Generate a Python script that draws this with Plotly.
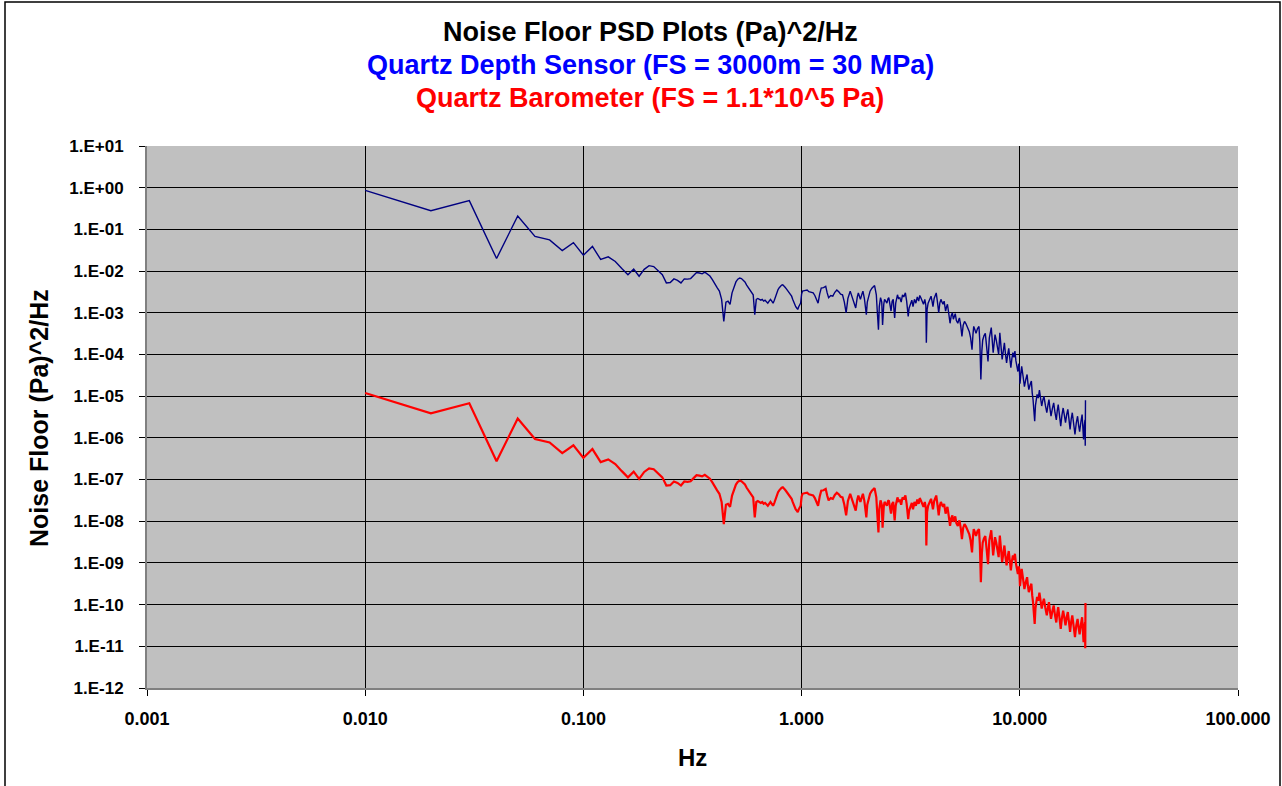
import plotly.graph_objects as go

# ---------------- data ----------------
freq_hz = [
    0.01, 0.02, 0.03, 0.04, 0.05, 0.06, 0.07, 0.08, 0.09, 0.10,
    0.11, 0.12, 0.13, 0.14, 0.15, 0.16, 0.17, 0.18, 0.19, 0.20,
    0.21, 0.22, 0.23, 0.24, 0.25, 0.26, 0.27, 0.28, 0.29, 0.30,
    0.31, 0.32, 0.33, 0.34, 0.35, 0.36, 0.37, 0.38, 0.39, 0.40,
    0.41, 0.42, 0.43, 0.44, 0.45, 0.46, 0.47, 0.48, 0.49, 0.50,
    0.51, 0.52, 0.53, 0.54, 0.55, 0.56, 0.57, 0.58, 0.59, 0.60,
    0.61, 0.62, 0.63, 0.64, 0.65, 0.66, 0.67, 0.68, 0.69, 0.70,
    0.71, 0.72, 0.73, 0.74, 0.75, 0.76, 0.77, 0.78, 0.79, 0.80,
    0.81, 0.82, 0.83, 0.84, 0.85, 0.86, 0.87, 0.88, 0.89, 0.90,
    0.91, 0.92, 0.93, 0.94, 0.95, 0.96, 0.97, 0.98, 0.99, 1.00,
    1.01, 1.03, 1.06, 1.08, 1.10, 1.13, 1.15, 1.17, 1.19, 1.21,
    1.23, 1.26, 1.29, 1.31, 1.33, 1.36, 1.39, 1.42, 1.45, 1.48,
    1.51, 1.54, 1.57, 1.60, 1.63, 1.67, 1.70, 1.72, 1.75, 1.77,
    1.80, 1.82, 1.84, 1.86, 1.89, 1.91, 1.94, 1.96, 1.98, 2.00,
    2.03, 2.06, 2.10, 2.13, 2.16, 2.18, 2.20, 2.22, 2.25, 2.27,
    2.30, 2.33, 2.35, 2.38, 2.40, 2.43, 2.46, 2.49, 2.51, 2.54,
    2.57, 2.60, 2.63, 2.65, 2.67, 2.70, 2.75, 2.78, 2.82, 2.86,
    2.90, 2.94, 2.99, 3.03, 3.08, 3.11, 3.15, 3.20, 3.24, 3.29,
    3.34, 3.39, 3.44, 3.48, 3.52, 3.57, 3.62, 3.67, 3.71, 3.73,
    3.76, 3.80, 3.86, 3.92, 3.96, 4.00, 4.05, 4.10, 4.14, 4.20,
    4.25, 4.30, 4.35, 4.40, 4.45, 4.50, 4.57, 4.62, 4.66, 4.72,
    4.79, 4.85, 4.91, 4.96, 5.00, 5.06, 5.12, 5.20, 5.25, 5.29,
    5.36, 5.43, 5.50, 5.58, 5.66, 5.74, 5.80, 5.87, 5.95, 6.04,
    6.10, 6.15, 6.22, 6.30, 6.40, 6.50, 6.56, 6.63, 6.70, 6.76,
    6.85, 6.95, 7.05, 7.15, 7.25, 7.40, 7.55, 7.70, 7.80, 7.90,
    8.00, 8.10, 8.20, 8.30, 8.40, 8.50, 8.60, 8.70, 8.80, 8.90,
    9.00, 9.10, 9.20, 9.30, 9.40, 9.50, 9.60, 9.70, 9.80, 9.90,
    9.95, 10.02, 10.2, 10.35, 10.5, 10.65, 10.8, 10.9, 11.0, 11.15,
    11.3, 11.4, 11.5, 11.7, 11.8, 12.0, 12.15, 12.3, 12.45, 12.6,
    12.75, 12.9, 13.1, 13.3, 13.45, 13.6, 13.75, 13.9, 14.1, 14.3,
    14.5, 14.7, 14.85, 15.0, 15.2, 15.4, 15.6, 15.8, 16.0, 16.2,
    16.4, 16.6, 16.8, 17.0, 17.2, 17.4, 17.65, 17.9, 18.15, 18.4,
    18.6, 18.8, 19.05, 19.3, 19.45, 19.6, 19.75, 19.9, 19.95, 20.0,
]

# Quartz depth sensor noise floor PSD, (Pa)^2/Hz
depth_psd = [
    0.86, 0.28, 0.49, 0.020, 0.21, 0.068, 0.056, 0.031, 0.048, 0.024,
    0.039, 0.019, 0.022, 0.017, 0.0115, 0.0082, 0.0112, 0.0075, 0.011, 0.0135,
    0.0128, 0.0104, 0.0082, 0.0052, 0.0053, 0.0065, 0.0060, 0.0052, 0.0065, 0.0064,
    0.0066, 0.0078, 0.0092, 0.0090, 0.0086, 0.0094, 0.0085, 0.0076, 0.0062, 0.0048,
    0.0040, 0.0033, 0.0021, 0.00062, 0.0018, 0.0019, 0.0016, 0.0030, 0.0043, 0.0055,
    0.0064, 0.0068, 0.0066, 0.0060, 0.0055, 0.0046, 0.0040, 0.0035, 0.0030, 0.0027,
    0.00090, 0.0021, 0.0022, 0.0021, 0.0020, 0.0021, 0.0019, 0.0020, 0.0018, 0.0017,
    0.0019, 0.0021, 0.0019, 0.0017, 0.0020, 0.0025, 0.0031, 0.0036, 0.0040, 0.0044,
    0.0046, 0.0047, 0.0045, 0.0041, 0.0038, 0.0035, 0.0033, 0.0030, 0.0028, 0.0025,
    0.0021, 0.0018, 0.0016, 0.0014, 0.0013, 0.0012, 0.0014, 0.0016, 0.0017, 0.0028,
    0.0033, 0.0034, 0.0035, 0.0032, 0.0031, 0.0030, 0.0026, 0.0021, 0.0017, 0.0028,
    0.0039, 0.0040, 0.0043, 0.0030, 0.0023, 0.0026, 0.0025, 0.0031, 0.0035, 0.0032,
    0.0028, 0.0027, 0.0018, 0.0010, 0.0022, 0.0033, 0.0024, 0.0019, 0.0016, 0.0013,
    0.0024, 0.0030, 0.0025, 0.0021, 0.0028, 0.0033, 0.0022, 0.0013, 0.00090, 0.0018,
    0.0027, 0.0033, 0.0039, 0.0042, 0.0045, 0.0035, 0.0027, 0.0012, 0.00039, 0.0014,
    0.0023, 0.0018, 0.00051, 0.0016, 0.0021, 0.0019, 0.0017, 0.0022, 0.0023, 0.0016,
    0.0011, 0.0019, 0.0021, 0.0012, 0.00075, 0.0017, 0.0027, 0.0022, 0.0023, 0.0018,
    0.0027, 0.0024, 0.0030, 0.0019, 0.00082, 0.0013, 0.0016, 0.0020, 0.0014, 0.0021,
    0.0017, 0.0024, 0.0019, 0.0026, 0.0023, 0.0020, 0.0016, 0.0021, 0.0015, 0.00019,
    0.0012, 0.0017, 0.0022, 0.0025, 0.0019, 0.0014, 0.0022, 0.0026, 0.0030, 0.0017,
    0.0010, 0.0017, 0.0021, 0.0018, 0.0016, 0.0019, 0.0011, 0.0014, 0.0016, 0.0010,
    0.00056, 0.00085, 0.0010, 0.00070, 0.00082, 0.00095, 0.00065, 0.00056, 0.00068, 0.00075,
    0.00050, 0.00027, 0.00050, 0.00062, 0.00055, 0.00047, 0.00040, 0.00035, 0.00025, 0.00013,
    0.00030, 0.00047, 0.00040, 0.00032, 0.00042, 0.00047, 0.00020, 0.000025, 0.00012, 0.00022,
    0.00028, 0.00032, 0.00015, 0.000068, 0.00025, 0.00044, 0.00011, 0.00030, 0.00022, 0.00015,
    0.00010, 0.00033, 0.00018, 0.000076, 0.00012, 0.00019, 0.00010, 0.000063, 0.00010, 0.00014,
    0.000080, 0.000048, 0.000080, 0.00011, 0.000085, 0.00012, 0.000070, 0.000050, 0.000039, 0.000060,
    0.000048, 0.000020, 0.000052, 0.000030, 0.000017, 0.000025, 0.000033, 0.000020, 0.0000144, 0.000019,
    0.000023, 0.000012, 8.3e-6, 2.5e-6, 6.0e-6, 1.1e-5, 9.0e-6, 1.4e-5, 9.0e-6, 5.8e-6,
    8.0e-6, 1.0e-5, 6.0e-6, 4.0e-6, 6.0e-6, 8.3e-6, 5.0e-6, 3.3e-6, 5.0e-6, 6.9e-6,
    4.0e-6, 2.7e-6, 4.5e-6, 6.3e-6, 3.5e-6, 1.9e-6, 3.5e-6, 5.2e-6, 3.5e-6, 2.3e-6,
    3.6e-6, 4.8e-6, 2.8e-6, 1.6e-6, 2.8e-6, 4.0e-6, 2.2e-6, 1.2e-6, 2.3e-6, 3.3e-6,
    2.0e-6, 1.4e-6, 2.4e-6, 3.6e-6, 1.8e-6, 9.1e-7, 2.0e-6, 2.7e-6, 6.5e-7, 8.0e-6,
]

# Quartz barometer noise floor PSD, (Pa)^2/Hz
baro_psd = [
    1.19e-5, 3.86e-6, 6.76e-6, 2.76e-7, 2.90e-6, 9.38e-7, 7.73e-7, 4.28e-7, 6.62e-7, 3.31e-7,
    5.38e-7, 2.62e-7, 3.04e-7, 2.35e-7, 1.59e-7, 1.13e-7, 1.55e-7, 1.04e-7, 1.52e-7, 1.86e-7,
    1.77e-7, 1.44e-7, 1.13e-7, 7.18e-8, 7.31e-8, 8.97e-8, 8.28e-8, 7.18e-8, 8.97e-8, 8.83e-8,
    9.11e-8, 1.08e-7, 1.27e-7, 1.24e-7, 1.19e-7, 1.30e-7, 1.17e-7, 1.05e-7, 8.56e-8, 6.62e-8,
    5.52e-8, 4.55e-8, 2.90e-8, 8.56e-9, 2.48e-8, 2.62e-8, 2.21e-8, 4.14e-8, 5.93e-8, 7.59e-8,
    8.83e-8, 9.38e-8, 9.11e-8, 8.28e-8, 7.59e-8, 6.35e-8, 5.52e-8, 4.83e-8, 4.14e-8, 3.73e-8,
    1.24e-8, 2.90e-8, 3.04e-8, 2.90e-8, 2.76e-8, 2.90e-8, 2.62e-8, 2.76e-8, 2.48e-8, 2.35e-8,
    2.62e-8, 2.90e-8, 2.62e-8, 2.35e-8, 2.76e-8, 3.45e-8, 4.28e-8, 4.97e-8, 5.52e-8, 6.07e-8,
    6.35e-8, 6.49e-8, 6.21e-8, 5.66e-8, 5.24e-8, 4.83e-8, 4.55e-8, 4.14e-8, 3.86e-8, 3.45e-8,
    2.90e-8, 2.48e-8, 2.21e-8, 1.93e-8, 1.79e-8, 1.66e-8, 1.93e-8, 2.21e-8, 2.35e-8, 3.86e-8,
    4.55e-8, 4.69e-8, 4.83e-8, 4.42e-8, 4.28e-8, 4.14e-8, 3.59e-8, 2.90e-8, 2.35e-8, 3.86e-8,
    5.38e-8, 5.52e-8, 5.93e-8, 4.14e-8, 3.17e-8, 3.59e-8, 3.45e-8, 4.28e-8, 4.83e-8, 4.42e-8,
    3.86e-8, 3.73e-8, 2.48e-8, 1.38e-8, 3.04e-8, 4.55e-8, 3.31e-8, 2.62e-8, 2.21e-8, 1.79e-8,
    3.31e-8, 4.14e-8, 3.45e-8, 2.90e-8, 3.86e-8, 4.55e-8, 3.04e-8, 1.79e-8, 1.24e-8, 2.48e-8,
    3.73e-8, 4.55e-8, 5.38e-8, 5.80e-8, 6.21e-8, 4.83e-8, 3.73e-8, 1.66e-8, 5.38e-9, 1.93e-8,
    3.17e-8, 2.48e-8, 7.04e-9, 2.21e-8, 2.90e-8, 2.62e-8, 2.35e-8, 3.04e-8, 3.17e-8, 2.21e-8,
    1.52e-8, 2.62e-8, 2.90e-8, 1.66e-8, 1.04e-8, 2.35e-8, 3.73e-8, 3.04e-8, 3.17e-8, 2.48e-8,
    3.73e-8, 3.31e-8, 4.14e-8, 2.62e-8, 1.13e-8, 1.79e-8, 2.21e-8, 2.76e-8, 1.93e-8, 2.90e-8,
    2.35e-8, 3.31e-8, 2.62e-8, 3.59e-8, 3.17e-8, 2.76e-8, 2.21e-8, 2.90e-8, 2.07e-8, 2.62e-9,
    1.66e-8, 2.35e-8, 3.04e-8, 3.45e-8, 2.62e-8, 1.93e-8, 3.04e-8, 3.59e-8, 4.14e-8, 2.35e-8,
    1.38e-8, 2.35e-8, 2.90e-8, 2.48e-8, 2.21e-8, 2.62e-8, 1.52e-8, 1.93e-8, 2.21e-8, 1.38e-8,
    7.73e-9, 1.17e-8, 1.38e-8, 9.66e-9, 1.13e-8, 1.31e-8, 8.97e-9, 7.73e-9, 9.38e-9, 1.04e-8,
    6.90e-9, 3.73e-9, 6.90e-9, 8.56e-9, 7.59e-9, 6.49e-9, 5.52e-9, 4.83e-9, 3.45e-9, 1.79e-9,
    4.14e-9, 6.49e-9, 5.52e-9, 4.42e-9, 5.80e-9, 6.49e-9, 2.76e-9, 3.45e-10, 1.66e-9, 3.04e-9,
    3.86e-9, 4.42e-9, 2.07e-9, 9.38e-10, 3.45e-9, 6.07e-9, 1.52e-9, 4.14e-9, 3.04e-9, 2.07e-9,
    1.38e-9, 4.55e-9, 2.48e-9, 1.05e-9, 1.66e-9, 2.62e-9, 1.38e-9, 8.69e-10, 1.38e-9, 1.93e-9,
    1.10e-9, 6.62e-10, 1.10e-9, 1.52e-9, 1.17e-9, 1.66e-9, 9.66e-10, 6.90e-10, 5.38e-10, 8.28e-10,
    6.62e-10, 2.76e-10, 7.18e-10, 4.14e-10, 2.35e-10, 3.45e-10, 4.55e-10, 2.76e-10, 1.99e-10, 2.62e-10,
    3.17e-10, 1.66e-10, 1.15e-10, 3.45e-11, 8.28e-11, 1.52e-10, 1.24e-10, 1.93e-10, 1.24e-10, 8.0e-11,
    1.10e-10, 1.38e-10, 8.28e-11, 5.52e-11, 8.28e-11, 1.15e-10, 6.9e-11, 4.55e-11, 6.9e-11, 9.52e-11,
    5.52e-11, 3.73e-11, 6.21e-11, 8.69e-11, 4.83e-11, 2.62e-11, 4.83e-11, 7.18e-11, 4.83e-11, 3.17e-11,
    4.97e-11, 6.62e-11, 3.86e-11, 2.21e-11, 3.86e-11, 5.52e-11, 3.04e-11, 1.66e-11, 3.17e-11, 4.55e-11,
    2.76e-11, 1.93e-11, 3.31e-11, 4.97e-11, 2.48e-11, 1.26e-11, 2.76e-11, 3.73e-11, 8.97e-12, 1.10e-10,
]

x_tick_vals = [0.001, 0.01, 0.1, 1, 10, 100]
x_tick_text = ["0.001", "0.010", "0.100", "1.000", "10.000", "100.000"]
y_tick_vals = [1e1, 1e0, 1e-1, 1e-2, 1e-3, 1e-4, 1e-5, 1e-6, 1e-7, 1e-8, 1e-9, 1e-10, 1e-11, 1e-12]
y_tick_text = ["1.E+01", "1.E+00", "1.E-01", "1.E-02", "1.E-03", "1.E-04", "1.E-05",
               "1.E-06", "1.E-07", "1.E-08", "1.E-09", "1.E-10", "1.E-11", "1.E-12"]

title_lines = ["Noise Floor PSD Plots (Pa)^2/Hz",
               "Quartz Depth Sensor (FS = 3000m = 30 MPa)",
               "Quartz Barometer (FS = 1.1*10^5 Pa)"]
title_colors = ["#000000", "#0000FF", "#FF0000"]

FONT = "Liberation Sans, Arial, Helvetica, sans-serif"

# ---------------- figure ----------------
fig = go.Figure()
fig.add_trace(go.Scatter(x=freq_hz, y=depth_psd, mode="lines",
                         line=dict(color="#000080", width=1.4), name="Depth sensor"))
fig.add_trace(go.Scatter(x=freq_hz, y=baro_psd, mode="lines",
                         line=dict(color="#FF0000", width=2.2), name="Barometer"))

W, H = 1282, 786
L, R, T, B = 147, 44, 146, 98
pw, ph = W - L - R, H - T - B


def px_x(p):
    return (p - L) / pw


def px_y(p):
    return (H - B - p) / ph


annotations = []
for txt, col, yc in zip(title_lines, title_colors, [32, 65, 98]):
    annotations.append(dict(text="<b>%s</b>" % txt, x=px_x(650), y=px_y(yc), xref="paper", yref="paper",
                            xanchor="center", yanchor="middle", showarrow=False,
                            font=dict(family=FONT, size=27, color=col)))
annotations.append(dict(text="<b>Noise Floor (Pa)^2/Hz</b>", x=px_x(39), y=px_y(418), xref="paper",
                        yref="paper", xanchor="center", yanchor="middle", showarrow=False,
                        textangle=-90, font=dict(family=FONT, size=25, color="#000000")))
annotations.append(dict(text="<b>Hz</b>", x=px_x(692), y=px_y(757), xref="paper", yref="paper",
                        xanchor="center", yanchor="middle", showarrow=False,
                        font=dict(family=FONT, size=24, color="#000000")))

fig.update_layout(
    width=W, height=H, autosize=False,
    margin=dict(l=L, r=R, t=T, b=B, pad=0),
    paper_bgcolor="#FFFFFF", plot_bgcolor="#C0C0C0",
    showlegend=False, hovermode=False,
    annotations=annotations,
    shapes=[dict(type="rect", xref="paper", yref="paper",
                 x0=px_x(5), x1=px_x(1280), y0=px_y(820), y1=px_y(2),
                 line=dict(color="#000000", width=1.5), fillcolor="rgba(0,0,0,0)", layer="above")],
)

fig.update_xaxes(type="log", range=[-3, 2], tickvals=x_tick_vals, ticktext=x_tick_text,
                 showgrid=True, gridcolor="#000000", gridwidth=1,
                 ticks="outside", ticklen=6, tickwidth=1, tickcolor="#000000",
                 showline=True, linecolor="#808080", linewidth=2,
                 zeroline=False, ticklabelstandoff=7,
                 tickfont=dict(family=FONT, size=18, color="#000000", weight="bold"))
fig.update_yaxes(type="log", range=[-12, 1], tickvals=y_tick_vals, ticktext=y_tick_text,
                 showgrid=True, gridcolor="#000000", gridwidth=1,
                 ticks="outside", ticklen=6, tickwidth=1, tickcolor="#000000",
                 showline=True, linecolor="#808080", linewidth=2,
                 zeroline=False, ticklabelstandoff=12,
                 tickfont=dict(family=FONT, size=17, color="#000000", weight="bold"))

fig.write_html("out.html")
